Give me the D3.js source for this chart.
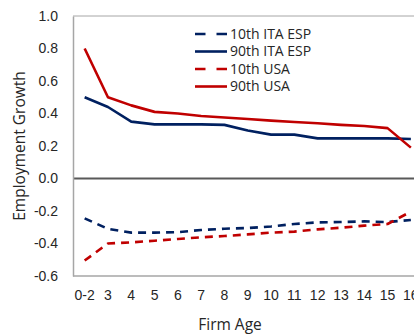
<!DOCTYPE html>
<html>
<head>
<meta charset="utf-8">
<script src="https://cdn.jsdelivr.net/npm/d3@7"></script>
<style>
	body { margin: 0; background: #fff; }
	svg { display: block; font-family: "Open Sans", "Noto Sans", sans-serif; }
</style>
</head>
<body>
<script>
const AGES = ["0-2", "3", "4", "5", "6", "7", "8", "9", "10", "11", "12", "13", "14", "15", "16"];
const Y_TICKS = [1.0, 0.8, 0.6, 0.4, 0.2, 0.0, -0.2, -0.4, -0.6];

const p10ItaEsp = [-0.245, -0.31, -0.333, -0.333, -0.33, -0.317, -0.309, -0.305, -0.295, -0.28, -0.27, -0.268, -0.264, -0.268, -0.255];
const p90ItaEsp = [0.50, 0.44, 0.35, 0.333, 0.333, 0.333, 0.33, 0.295, 0.27, 0.27, 0.247, 0.247, 0.247, 0.247, 0.243];
const p10Usa = [-0.505, -0.40, -0.393, -0.383, -0.372, -0.362, -0.354, -0.344, -0.333, -0.327, -0.313, -0.303, -0.29, -0.28, -0.204];
const p90Usa = [0.80, 0.50, 0.45, 0.41, 0.40, 0.385, 0.375, 0.366, 0.356, 0.348, 0.34, 0.33, 0.323, 0.31, 0.19];

const NAVY = "#002060";
const RED = "#c00000";

const series = [
	{ name: "10th ITA ESP", values: p10ItaEsp, color: NAVY, dashed: true },
	{ name: "90th ITA ESP", values: p90ItaEsp, color: NAVY, dashed: false },
	{ name: "10th USA", values: p10Usa, color: RED, dashed: true },
	{ name: "90th USA", values: p90Usa, color: RED, dashed: false },
];

const width = 414, height = 335;
const margin = { top: 16, left: 73, bottom: 59 };
const stepX = 23.3;

const x = d3.scaleBand()
	.domain(AGES)
	.range([margin.left, margin.left + AGES.length * stepX]);
const y = d3.scaleLinear()
	.domain([-0.6, 1.0])
	.range([height - margin.bottom, margin.top]);

const svg = d3.select("body")
	.append("svg")
		.attr("width", width)
		.attr("height", height);

// frame
svg.append("line")
	.attr("x1", margin.left).attr("x2", width)
	.attr("y1", y(1.0)).attr("y2", y(1.0))
	.attr("stroke", "#a6a6a6").attr("stroke-width", 1);
svg.append("line")
	.attr("x1", margin.left).attr("x2", width)
	.attr("y1", y(-0.6)).attr("y2", y(-0.6))
	.attr("stroke", "#a6a6a6").attr("stroke-width", 1.5);
svg.append("line")
	.attr("x1", margin.left).attr("x2", width)
	.attr("y1", y(0)).attr("y2", y(0))
	.attr("stroke", "#595959").attr("stroke-width", 2);

let axisY = svg.append("g")
	.attr("transform", `translate(${margin.left}, 0)`)
	.call(d3.axisLeft(y).tickValues(Y_TICKS).tickFormat(d3.format(".1f")).tickSize(0).tickPadding(15));
axisY.select(".domain").attr("stroke", "#a6a6a6").attr("stroke-width", 1.5);
axisY.selectAll("text").attr("font-size", 14).attr("fill", "#262626")
	.text(d => d3.format(".1f")(d).replace("−", "-"));

let axisX = svg.append("g")
	.attr("transform", `translate(0, ${y(-0.6)})`)
	.call(d3.axisBottom(x).tickSize(0).tickPadding(14));
axisX.select(".domain").remove();
axisX.selectAll("text").attr("font-size", 14).attr("fill", "#262626");

svg.append("text")
	.attr("transform", `translate(21, ${(y(1.0) + y(-0.6)) / 2}) rotate(-90)`)
	.attr("text-anchor", "middle")
	.attr("dominant-baseline", "middle")
	.attr("font-size", 15.5)
	.attr("fill", "#262626")
	.text("Employment Growth");

svg.append("text")
	.attr("x", 230)
	.attr("y", 330)
	.attr("text-anchor", "middle")
	.attr("font-size", 15.5)
	.attr("fill", "#262626")
	.text("Firm Age");

const line = d3.line()
	.x((d, i) => x(AGES[i]) + x.bandwidth() / 2)
	.y(d => y(d));

svg.append("g")
	.selectAll("path")
	.data(series)
	.enter()
	.append("path")
		.attr("d", d => line(d.values))
		.attr("fill", "none")
		.attr("stroke", d => d.color)
		.attr("stroke-width", 2.6)
		.attr("stroke-linejoin", "round")
		.attr("stroke-dasharray", d => d.dashed ? "8,6" : null);

let legend = svg.append("g")
	.selectAll("g")
	.data(series)
	.enter()
	.append("g")
		.attr("transform", (d, i) => `translate(195, ${34 + i * 17.5})`);
legend.append("line")
	.attr("x1", 0).attr("x2", 32)
	.attr("stroke", d => d.color)
	.attr("stroke-width", 2.6)
	.attr("stroke-dasharray", d => d.dashed ? "10.5,11" : null);
legend.append("text")
	.attr("x", 35)
	.attr("dy", "0.35em")
	.attr("font-size", 14)
	.attr("fill", "#262626")
	.text(d => d.name);
</script>
</body>
</html>
